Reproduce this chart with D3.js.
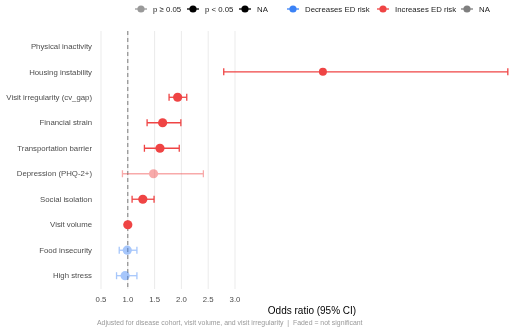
<!DOCTYPE html>
<html>
<head>
<meta charset="utf-8">
<script src="https://cdn.jsdelivr.net/npm/d3@7"></script>
<style>
  body { margin: 0; background: #fff; }
  svg { will-change: transform; }
  text { font-family: "Liberation Sans", Arial, sans-serif; }
</style>
</head>
<body>
<script>
// factors, top to bottom
var factors = ["Physical inactivity", "Housing instability", "Visit irregularity (cv_gap)",
  "Financial strain", "Transportation barrier", "Depression (PHQ-2+)", "Social isolation",
  "Visit volume", "Food insecurity", "High stress"];
// odds ratios and 95% CI (null = not estimated)
var oddsRatio = [null, 4.64, 1.93, 1.65, 1.60, 1.48, 1.28, 1.00, 0.99, 0.95];
var ciLow     = [null, 2.79, 1.77, 1.36, 1.31, 0.90, 1.08, 0.99, 0.84, 0.79];
var ciHigh    = [null, 8.09, 2.10, 1.99, 1.96, 2.41, 1.49, 1.01, 1.17, 1.17];
var significant = [null, true, true, true, true, false, true, true, false, false];
var xTicks = [0.5, 1.0, 1.5, 2.0, 2.5, 3.0];

var width = 510, height = 330;
var red = "#ef4444", blue = "#3b82f6", grey = "#7f7f7f";

var svg = d3.select("body").append("svg")
  .attr("width", width).attr("height", height);

var x = d3.scaleLinear().domain([0.5, 3.0]).range([101, 235]);
var y = d3.scaleBand().domain(factors).range([31, 291]).paddingOuter(0.1);
var yc = function(f) { return y(f) + y.bandwidth() / 2; };

// vertical grid lines
svg.append("g").selectAll("line")
  .data(xTicks).enter().append("line")
    .attr("x1", d => x(d)).attr("x2", d => x(d))
    .attr("y1", 31).attr("y2", 289)
    .attr("stroke", "#ebebeb").attr("stroke-width", 1);

// reference line at OR = 1
svg.append("line")
  .attr("x1", x(1)).attr("x2", x(1)).attr("y1", 31).attr("y2", 289)
  .attr("stroke", "#7a7a7a").attr("stroke-width", 1)
  .attr("stroke-dasharray", "4,3");

// y labels
svg.append("g").selectAll("text")
  .data(factors).enter().append("text")
    .attr("x", 92).attr("y", d => yc(d))
    .attr("dy", "0.35em").attr("text-anchor", "end")
    .attr("font-size", 7.8).attr("fill", "#4d4d4d")
    .text(d => d);

// x tick labels
svg.append("g").selectAll("text")
  .data(xTicks).enter().append("text")
    .attr("x", d => x(d)).attr("y", 299).attr("dy", "0.35em")
    .attr("text-anchor", "middle").attr("font-size", 7.8).attr("fill", "#4d4d4d")
    .text(d => d.toFixed(1));

// points with CI
var rows = factors.map(function(f, i) {
  return { f: f, or: oddsRatio[i], lo: ciLow[i], hi: ciHigh[i], sig: significant[i] };
}).filter(d => d.or != null);

var g = svg.append("g").selectAll("g")
  .data(rows).enter().append("g")
    .attr("opacity", d => d.sig ? 1 : 0.45)
    .attr("stroke", d => d.or >= 1 ? red : blue)
    .attr("fill", d => d.or >= 1 ? red : blue);

g.append("line")
  .attr("x1", d => x(d.lo)).attr("x2", d => x(d.hi))
  .attr("y1", d => yc(d.f)).attr("y2", d => yc(d.f))
  .attr("stroke-width", 1.3);
g.append("line")
  .attr("x1", d => x(d.lo)).attr("x2", d => x(d.lo))
  .attr("y1", d => yc(d.f) - 3.5).attr("y2", d => yc(d.f) + 3.5)
  .attr("stroke-width", 1.3);
g.append("line")
  .attr("x1", d => x(d.hi)).attr("x2", d => x(d.hi))
  .attr("y1", d => yc(d.f) - 3.5).attr("y2", d => yc(d.f) + 3.5)
  .attr("stroke-width", 1.3);
g.append("circle")
  .attr("cx", d => x(d.or)).attr("cy", d => yc(d.f))
  .attr("r", d => d.f == "Housing instability" ? 4 : 4.6)
  .attr("stroke", "none");

// legends
var legendItems = [
  { x: 141, color: "#999999", label: "p \u2265 0.05" },
  { x: 193, color: "#000000", label: "p < 0.05" },
  { x: 245, color: "#000000", label: "NA" },
  { x: 293, color: blue, label: "Decreases ED risk" },
  { x: 383, color: red, label: "Increases ED risk" },
  { x: 467, color: grey, label: "NA" }
];
var lg = svg.append("g").selectAll("g")
  .data(legendItems).enter().append("g")
    .attr("transform", d => "translate(" + d.x + ",9)");
lg.append("line").attr("x1", -6).attr("x2", 6)
  .attr("stroke", d => d.color).attr("stroke-width", 1.3);
lg.append("circle").attr("r", 3.6).attr("fill", d => d.color);
lg.append("text").attr("x", 12).attr("dy", "0.35em")
  .attr("font-size", 7.8).attr("fill", "#1a1a1a")
  .text(d => d.label);

// axis title and caption
svg.append("text")
  .attr("x", 312).attr("y", 310).attr("dy", "0.35em")
  .attr("text-anchor", "middle").attr("font-size", 10).attr("fill", "#000")
  .text("Odds ratio (95% CI)");
svg.append("text")
  .attr("x", 97).attr("y", 323).attr("dy", "0.35em")
  .attr("font-size", 6.9).attr("fill", "#999")
  .text("Adjusted for disease cohort, visit volume, and visit irregularity\u00a0\u00a0|\u00a0\u00a0Faded = not significant");
</script>
</body>
</html>
